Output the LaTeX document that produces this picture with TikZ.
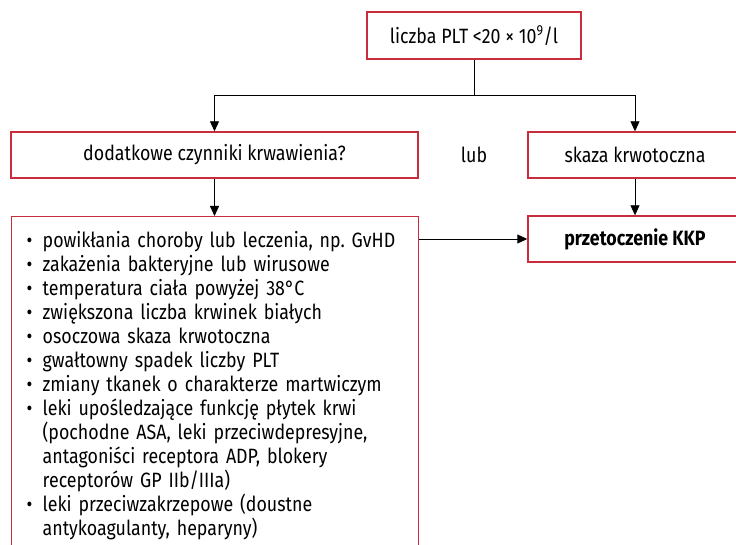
\documentclass[tikz,border=0pt]{standalone}
\usepackage{fontspec}
\setmainfont{Fira Sans}[FakeStretch=0.86]
\usepackage{tikz}
\usetikzlibrary{arrows.meta,positioning}

\definecolor{boxred}{RGB}{200,45,60}
\newcommand{\bul}{\makebox[16pt][l]{\textbullet}}
\newcommand{\ind}{\hspace*{16pt}}

\begin{document}
\frenchspacing
\begin{tikzpicture}[%
x=1pt, y=-1pt,
>={Triangle[length=10pt,width=9pt]},
on grid,
box/.style={draw=boxred, line width=1.4pt, minimum width=214pt, minimum height=46pt, inner sep=0pt},
arrow/.style={->, line width=0.9pt},
every node/.style={font=\fontsize{20.7}{24}\selectfont}
]

\clip (0,0) rectangle (736,545);

\node[box, minimum height=47pt] (plt) at (474,35.5) {liczba PLT <20 × 10\textsuperscript{9}/l};
\node[box, minimum width=407pt] (czyn) [below left=119.5pt and 259.5pt of plt] {dodatkowe czynniki krwawienia?};
\node (lub) [below=119.5pt of plt] {lub};
\node[box] (skaza) [below right=119.5pt and 161pt of plt] {skaza krwotoczna};
\node[box] (kkp) [below=84pt of skaza] {\bfseries przetoczenie KKP};
\node[box, anchor=north west, minimum width=407pt, text width=377pt, align=left, inner xsep=15pt, inner ysep=15pt] (lista) at (11,216) {%
\bul powikłania choroby lub leczenia, np. GvHD\\
\bul zakażenia bakteryjne lub wirusowe\\
\bul temperatura ciała powyżej 38°C\\
\bul zwiększona liczba krwinek białych\\
\bul osoczowa skaza krwotoczna\\
\bul gwałtowny spadek liczby PLT\\
\bul zmiany tkanek o charakterze martwiczym\\
\bul leki upośledzające funkcję płytek krwi\\
\ind (pochodne ASA, leki przeciwdepresyjne,\\
\ind antagoniści receptora ADP, blokery\\
\ind receptorów GP IIb/IIIa)\\
\bul leki przeciwzakrzepowe (doustne\\
\ind antykoagulanty, heparyny)\\
\mbox{}};

\coordinate (split) at (plt.south |- 0,95);

\draw[line width=0.9pt] (plt.south) -- (split);
\draw[arrow] (split) -| (czyn.north);
\draw[arrow] (split) -| (skaza.north);
\draw[arrow] (czyn.south) -- (czyn.south |- lista.north);
\draw[arrow] (skaza) -- (kkp);
\draw[arrow] (lista.east |- kkp) -- (kkp.west);

\end{tikzpicture}
\end{document}
